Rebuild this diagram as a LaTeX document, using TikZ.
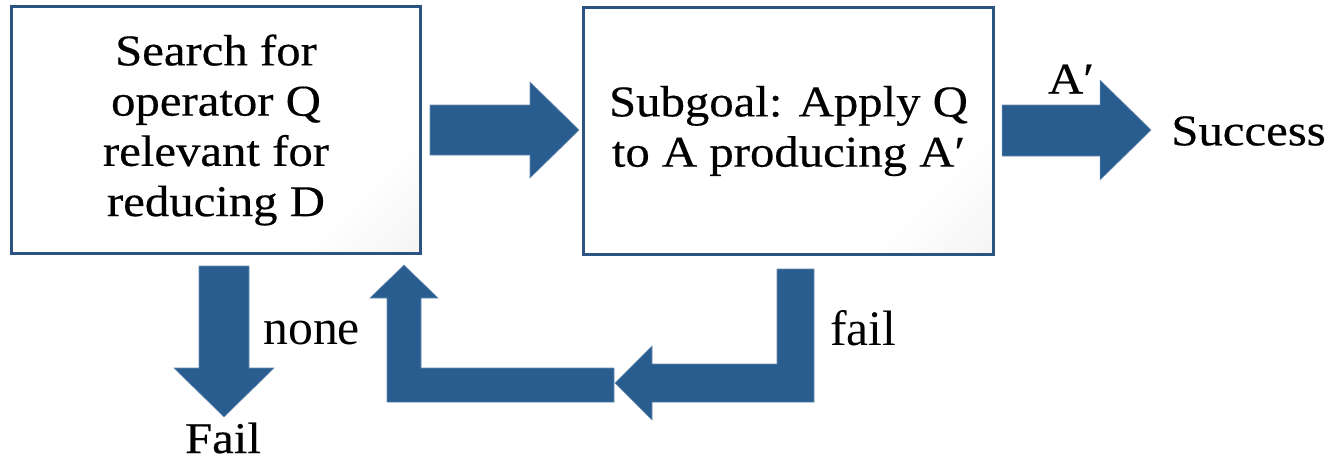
\documentclass[tikz,border=0pt]{standalone}
\usepackage{fontspec}
\setmainfont{Liberation Serif}
\newfontfamily\boxfont[FakeStretch=1.11, FakeBold=0.4]{Liberation Serif}
\usetikzlibrary{calc}

\definecolor{arrowblue}{RGB}{41,92,143}
\definecolor{edgeblue}{RGB}{44,84,130}
\pgfdeclarehorizontalshading{boxshade}{100bp}{color(0bp)=(white); color(72bp)=(white); color(100bp)=(black!9)}

\begin{document}
\begin{tikzpicture}[x=0.02cm, y=-0.02cm,
		box/.style = {draw=edgeblue, line width=1.7pt, minimum width=8.2cm, minimum height=4.94cm,
			inner sep=0pt, align=center, font=\boxfont\fontsize{25}{28.6}\selectfont,
			shading=boxshade, shading angle=-45},
		word/.style = {inner sep=0pt, font=\boxfont\fontsize{25}{28.6}\selectfont},
		lbl/.style = {inner sep=0pt, font=\fontsize{28.3}{30}\selectfont},
		blockarrow/.style = {fill=arrowblue, draw=arrowblue!70!white, line width=0.3pt}]
	\useasboundingbox (0, 0) rectangle (1331, 461);

	% the two steps
	\node[box](search) at (216, 130){Search for\\operator Q\\relevant for\\reducing D};
	\node[box](subgoal) at (788.5, 131){Subgoal: Apply Q\\to A producing A′};

	% search -> subgoal
	\draw[blockarrow] (430, 105)--(530, 105)--(530, 82)--(579, 130)--(530, 178)--(530, 155)--(430, 155)--cycle;

	% subgoal -> success
	\node[word, anchor = west](success) at (1171, 131){Success};
	\node[word](aprime) at (1071, 79){A′};
	\draw[blockarrow] (1002, 105)--(1100, 105)--(1100, 80)--(1151, 130)--(1100, 180)--(1100, 156)--(1002, 156)--cycle;

	% search -> fail
	\node[word](fail) at (223, 438){Fail};
	\node[lbl, anchor = west](none) at (263, 333){none};
	\draw[blockarrow] (199, 266)--(249, 266)--(249, 368)--(274, 368)--(224, 417)--(174, 368)--(199, 368)--cycle;

	% subgoal fails, back to search
	\node[lbl, anchor = west](failed) at (830, 328){fail};
	\draw[blockarrow] (777, 269)--(814, 269)--(814, 402)--(652, 402)--(652, 420)--(615, 383)--(652, 346)--(652, 364)--(777, 364)--cycle;
	\draw[blockarrow] (614, 368)--(421, 368)--(421, 298)--(438, 298)--(404, 265)--(370, 298)--(387, 298)--(387, 402)--(614, 402)--cycle;
\end{tikzpicture}
\end{document}
